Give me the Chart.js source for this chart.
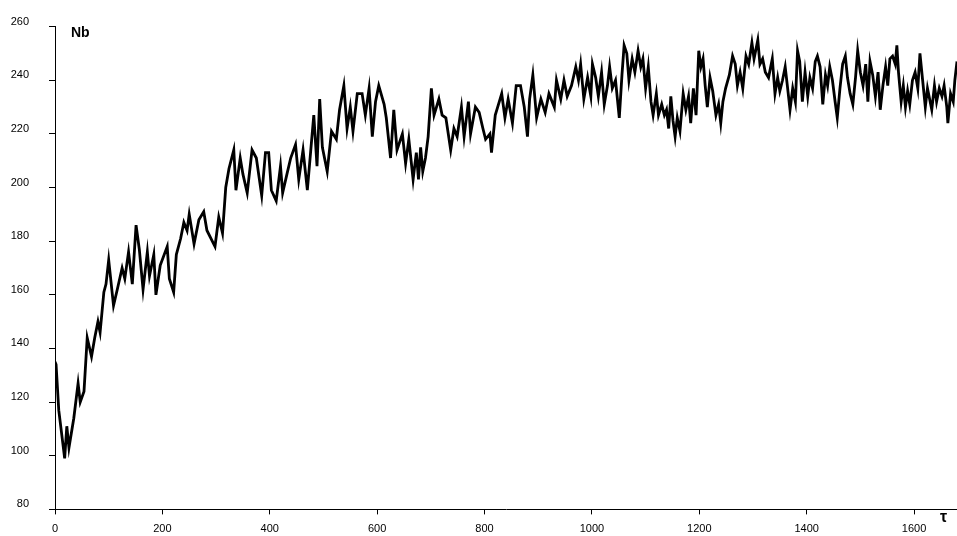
<!DOCTYPE html>
<html>
<head>
<meta charset="utf-8">
<script src="https://cdn.jsdelivr.net/npm/chart.js@4.4.0/dist/chart.umd.min.js"></script>
<style>
  html, body { margin: 0; padding: 0; background: #fff; }
  #wrap { position: relative; width: 957px; height: 536px; }
  canvas { display: block; }
  .lbl { position: absolute; font-family: "Liberation Sans", Arial, sans-serif; font-weight: bold; color: #000; line-height: 1; }
</style>
</head>
<body>
<div id="wrap">
  <canvas id="c" width="957" height="536"></canvas>
  <div class="lbl" id="ylab" style="left:71px; top:25px; font-size:14px;">Nb</div>
  <div class="lbl" id="xlab" style="left:940px; top:509px; font-size:16px;">τ</div>
</div>
<script>
// time (τ)
const tau = [
  0,2,7,18,22,26,35,43,47,54,60,68,74,80,84,91,95,100,109,116,125,130,137,144,151,157,164,172,176,184,188,196,209,213,221,226,234,240,246,250,259,268,277,283,298,305,312,318,324,
  333,337,345,350,358,367,375,385,392,398,403,412,420,424,432,439,448,454,462,470,476,482,488,493,498,507,515,524,530,538,544,550,555,563,572,578,585,591,597,603,613,617,625,631,637,647,653,659,667,673,
  677,681,685,690,695,701,706,715,721,728,737,743,749,757,762,770,774,783,790,797,802,810,813,820,826,832,838,844,852,859,867,874,880,884,890,897,905,913,920,930,934,942,948,954,962,970,975,979,985,992,998,
  1001,1007,1012,1018,1023,1029,1033,1038,1044,1051,1056,1060,1065,1069,1075,1080,1086,1091,1095,1100,1105,1110,1114,1120,1124,1130,1135,1139,1143,1147,1151,1155,1159,1164,1170,1175,1180,1184,1189,1194,1199,1203,1207,1211,1215,1220,1225,1231,1236,1240,1244,1249,1256,1262,1267,1271,1276,1281,1287,1292,1298,1302,1309,1313,1318,1323,1329,
  1336,1341,1346,1350,1355,1360,1364,1369,1374,1379,1383,1387,1392,1397,1402,1406,1411,1416,1420,1425,1430,1435,1439,1443,1448,1453,1457,1462,1467,1472,1476,1481,1486,1491,1495,1500,1505,1510,1514,1518,1523,1528,1533,1537,1542,1547,1551,1555,1560,1565,1568,1571,1576,1580,1584,1588,1592,1597,1602,1607,1611,1616,1621,1625,1630,1633,1638,1642,1647,1652,1656,1661,1663,1668,1673,1676,1680
];
// Nb values
const nb = [
  135,134,117,99,111,103,114,127,120,124,144,137,144,150,146,161,164,173,156,162,170,166,176,164,186,177,162,176,167,175,160,171,178,166,161,175,181,187,184,190,179,188,191,184,178,189,183,200,207,
  214,199,211,205,198,214,211,197,213,213,199,195,208,198,205,211,216,203,214,199,213,227,208,233,215,206,221,218,229,238,222,230,221,235,235,227,237,219,232,238,231,226,211,229,214,220,209,218,203,213,
  203,215,206,211,219,237,227,233,227,226,214,222,219,230,219,232,220,230,228,222,218,220,213,227,231,235,226,233,224,238,238,230,219,233,242,226,233,228,235,230,240,233,240,234,238,245,240,246,233,241,234,
  246,241,234,243,231,238,245,237,240,226,242,253,250,240,248,243,251,245,248,237,245,232,227,235,227,231,227,229,222,234,225,219,226,221,235,229,234,224,237,227,251,245,248,238,230,241,236,227,231,224,232,237,242,249,246,238,243,237,249,246,254,248,255,246,248,243,241,
  248,235,241,236,240,245,238,229,237,232,251,247,232,243,234,241,237,247,249,245,231,242,238,245,240,232,226,237,246,249,241,235,231,241,251,243,238,246,232,247,242,234,243,229,238,245,238,248,249,246,253,243,232,238,230,236,231,240,243,237,250,240,230,237,232,229,238,232,237,234,238,230,224,235,232,240,247
];
const xTicks = [0,200,400,600,800,1000,1200,1400,1600];
const yTicks = [80,100,120,140,160,180,200,220,240,260];

const points = tau.map((t, i) => ({ x: t, y: nb[i] }));

const axisFont = { family: "'Liberation Sans', Arial, sans-serif", size: 11 };

new Chart(document.getElementById('c'), {
  type: 'line',
  data: {
    datasets: [{
      data: points,
      borderColor: '#000',
      borderWidth: 2.8,
      pointRadius: 0,
      tension: 0,
      fill: false
    }]
  },
  options: {
    responsive: false,
    animation: false,
    events: [],
    layout: { padding: { top: 21, right: 0, bottom: 0, left: 0 } },
    plugins: { legend: { display: false }, tooltip: { enabled: false } },
    scales: {
      x: {
        type: 'linear',
        min: 0, max: 1680,
        afterBuildTicks: s => { s.ticks = xTicks.map(v => ({ value: v })); },
        afterFit: s => { s.height = 26; },
        border: { display: true, color: '#000', width: 1 },
        grid: { drawOnChartArea: false, drawTicks: true, tickLength: 5, color: '#000' },
        ticks: { font: axisFont, color: '#000', padding: 8, maxRotation: 0, autoSkip: false,
                 callback: v => String(v) }
      },
      y: {
        min: 80, max: 260,
        afterBuildTicks: s => { s.ticks = yTicks.map(v => ({ value: v })); },
        afterFit: s => { s.width = 55; },
        border: { display: true, color: '#000', width: 1 },
        grid: { drawOnChartArea: false, drawTicks: true, tickLength: 6, color: '#000' },
        ticks: { font: axisFont, color: '#000', padding: 20, labelOffset: -5, autoSkip: false,
                 callback: v => String(v) }
      }
    }
  }
});
</script>
</body>
</html>
